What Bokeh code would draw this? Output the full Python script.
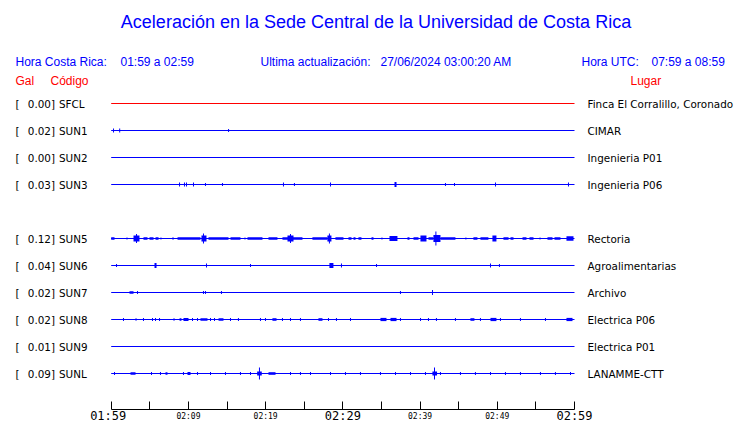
from bokeh.plotting import figure
from bokeh.models import Range1d, LinearAxis, FixedTicker, ColumnDataSource
from bokeh.core.properties import value
from bokeh.embed import file_html
from bokeh.resources import INLINE

# ---------------- data ----------------
titulo = "Aceleración en la Sede Central de la Universidad de Costa Rica"
hora_cr_lbl, hora_cr = "Hora Costa Rica:", "01:59 a 02:59"
act_lbl, act = "Ultima actualización:", "27/06/2024 03:00:20 AM"
hora_utc_lbl, hora_utc = "Hora UTC:", "07:59 a 08:59"

codigos = ["SFCL", "SUN1", "SUN2", "SUN3", "SUN5", "SUN6", "SUN7", "SUN8", "SUN9", "SUNL"]
gal = [0.00, 0.02, 0.00, 0.03, 0.12, 0.04, 0.02, 0.02, 0.01, 0.09]
lugares = ["Finca El Corralillo, Coronado", "CIMAR", "Ingenieria P01", "Ingenieria P06",
           "Rectoria", "Agroalimentarias", "Archivo", "Electrica P06", "Electrica P01",
           "LANAMME-CTT"]
trace_colors = ["red"] + ["blue"] * 9

tick_minutes = list(range(0, 61, 5))
small_tick_labels = {10: "02:09", 20: "02:19", 40: "02:39", 50: "02:49"}
big_tick_minutes = [0, 30, 60]
big_tick_labels = ["01:59", "02:29", "02:59"]

# events: (start minute, end minute, half amplitude)
ev_SFCL = []
ev_SUN1 = [(0.3, 0.3, 2), (1.1, 1.1, 2), (15.2, 15.2, 1.5)]
ev_SUN2 = []
ev_SUN3 = [(8.85, 8.85, 2), (9.49, 9.49, 2), (9.75, 9.75, 2), (10.66, 10.66, 2), (12.21, 12.21, 1.5),
           (14.41, 14.41, 1.5), (22.31, 22.31, 2), (23.73, 23.73, 1.5), (28.40, 28.40, 2),
           (36.69, 36.95, 2.5), (43.29, 43.29, 1.5), (44.46, 44.46, 1.5), (49.77, 49.77, 2),
           (59.22, 59.22, 2)]
ev_SUN5 = [(0.0, 0.43, 1.3), (1.98, 2.11, 1), (2.89, 3.66, 3), (3.28, 3.28, 4.5), (4.18, 4.70, 1.3),
           (4.96, 5.48, 1.3), (5.74, 6.13, 1.3), (6.38, 6.51, 1), (7.94, 8.07, 1.3), (8.59, 11.56, 1.3),
           (11.69, 12.34, 3), (11.95, 11.95, 5), (12.60, 15.19, 1.3), (15.45, 16.74, 1.3),
           (17.26, 17.39, 1), (17.65, 19.59, 1.3), (20.37, 21.53, 1.3), (22.18, 24.77, 1.3),
           (22.83, 23.61, 3), (23.22, 23.22, 4.5), (26.06, 28.00, 1.3), (28.00, 28.52, 3),
           (28.26, 28.26, 5), (29.04, 30.08, 1.3), (30.73, 31.12, 1.3), (31.38, 31.64, 1.3),
           (32.02, 32.41, 1.3), (33.71, 33.97, 1.3), (35.00, 35.13, 1), (36.04, 37.07, 2.5),
           (38.37, 38.63, 1.3), (39.15, 39.80, 1.3), (40.05, 40.83, 3), (41.09, 41.73, 1.3),
           (41.73, 42.64, 3.5), (42.05, 42.05, 7), (42.64, 44.58, 1.3), (45.87, 46.00, 1),
           (46.91, 47.43, 1.3), (47.82, 48.85, 1.3), (49.37, 49.89, 3), (50.80, 51.46, 1.3),
           (51.71, 52.10, 1.3), (53.27, 53.78, 1.3), (54.17, 54.69, 1.3), (55.47, 55.60, 1),
           (56.50, 57.15, 1.3), (57.41, 58.18, 1.3), (58.96, 59.87, 2.2)]
ev_SUN6 = [(0.69, 0.69, 1.5), (5.61, 5.87, 2.5), (12.34, 12.34, 2), (18.04, 18.04, 1.5),
           (28.26, 28.78, 2.5), (29.82, 29.82, 2), (34.36, 34.36, 1.5), (49.12, 49.12, 2),
           (50.28, 50.28, 1.5)]
ev_SUN7 = [(2.37, 2.89, 1.3), (3.41, 3.41, 1.5), (11.95, 11.95, 1.5), (12.21, 12.21, 1.5),
           (14.28, 14.28, 1.5), (37.46, 37.46, 1.5), (41.61, 41.61, 2.5)]
ev_SUN8 = [(1.59, 1.59, 1.5), (3.15, 3.28, 1.3), (4.18, 4.18, 1.5), (5.35, 5.35, 1.5), (5.74, 5.74, 1.5),
           (6.26, 6.26, 1.5), (8.07, 8.20, 1.3), (8.85, 9.10, 1.3), (9.36, 10.01, 1.6), (10.53, 10.53, 1.5),
           (11.18, 11.18, 1.5), (11.56, 12.47, 1.3), (12.86, 12.86, 1.5), (13.38, 13.38, 1.5),
           (13.90, 14.54, 1.3), (15.45, 15.45, 1.5), (16.48, 16.48, 1.5), (19.33, 19.33, 1.5),
           (19.98, 19.98, 1.5), (20.88, 21.41, 1.3), (22.18, 22.18, 1.5), (23.22, 23.22, 1.5),
           (24.51, 24.51, 1.5), (26.84, 27.36, 1.3), (28.14, 28.14, 1.5), (29.17, 29.17, 1.5),
           (30.99, 30.99, 1.5), (34.87, 35.65, 1.6), (36.17, 36.95, 1.6), (37.46, 37.46, 1.5),
           (40.06, 40.06, 1.5), (41.09, 41.09, 1.5), (42.12, 42.12, 1.5), (44.58, 44.58, 1.5),
           (46.52, 47.04, 1.3), (47.82, 47.82, 1.5), (49.12, 49.89, 1.6), (50.41, 50.41, 1.5),
           (53.0, 53.0, 1.5), (56.24, 56.24, 1.5), (58.96, 59.74, 1.6)]
ev_SUN9 = []
ev_SUNL = [(0.43, 0.43, 1.5), (2.50, 3.15, 1.3), (5.22, 5.22, 1.5), (6.38, 6.38, 1.5), (7.03, 7.29, 1.3),
           (9.36, 9.36, 1.5), (9.88, 10.27, 1.6), (11.18, 11.18, 1.5), (12.86, 12.86, 1.5),
           (14.80, 14.80, 1.5), (16.74, 16.74, 1.5), (18.04, 18.04, 1.5), (18.9, 19.5, 2),
           (19.20, 19.20, 6), (20.37, 21.28, 1.3), (23.22, 23.22, 1.5), (24.51, 24.51, 1.5),
           (25.81, 25.81, 1.5), (28.40, 28.40, 1.5), (30.34, 30.34, 1.5), (32.28, 32.28, 1.5),
           (34.87, 34.87, 1.5), (36.82, 36.82, 1.5), (38.76, 38.76, 1.5), (40.70, 40.70, 1.5),
           (41.6, 42.2, 2), (41.87, 41.87, 6), (42.64, 42.64, 1.5), (45.23, 45.23, 1.5),
           (47.17, 47.17, 1.5), (49.12, 49.12, 1.5), (51.06, 51.06, 1.5), (53.0, 53.0, 1.5),
           (55.59, 55.59, 1.5), (57.53, 57.53, 1.5), (59.48, 59.48, 1.5)]
eventos = [ev_SFCL, ev_SUN1, ev_SUN2, ev_SUN3, ev_SUN5, ev_SUN6, ev_SUN7, ev_SUN8, ev_SUN9, ev_SUNL]

# ---------------- layout ----------------
W, H = 740, 423
X0_PX, X1_PX = 110.7, 574.0
PPM = (X1_PX - X0_PX) / 60.0
AXIS_Y = 409
ROW0, ROW_STEP = 103, 27
BLUE, RED = "#0000ff", "#ff0000"

p = figure(width=W, height=H, output_backend="svg", toolbar_location=None,
           x_axis_type=None, y_axis_type=None,
           x_range=Range1d(-X0_PX / PPM, (W - X0_PX) / PPM),
           y_range=Range1d(H, 0),
           min_border=0)
p.outline_line_color = None
p.grid.visible = False
p.background_fill_color = "white"
p.border_fill_color = "white"
p.extra_x_ranges = {"px": Range1d(0, W)}

# traces
base = dict(x0=[], x1=[], y=[], c=[])
qd = dict(l=[], r=[], b=[], t=[], c=[])
sg = dict(x=[], y0=[], y1=[], c=[])
for i, ev in enumerate(eventos):
    slot = i + (1 if i >= 4 else 0)
    y = ROW0 + ROW_STEP * slot
    col = trace_colors[i]
    base["x0"].append(0); base["x1"].append(60); base["y"].append(y); base["c"].append(col)
    for (a, b, amp) in ev:
        if b > a:
            qd["l"].append(a); qd["r"].append(b); qd["b"].append(y - amp); qd["t"].append(y + amp); qd["c"].append(col)
        else:
            sg["x"].append(a); sg["y0"].append(y - amp); sg["y1"].append(y + amp); sg["c"].append(col)

p.segment(x0="x0", y0="y", x1="x1", y1="y", line_color="c", line_width=1,
          source=ColumnDataSource(base))
p.quad(left="l", right="r", bottom="b", top="t", fill_color="c", line_color=None,
       source=ColumnDataSource(qd))
p.segment(x0="x", y0="y0", x1="x", y1="y1", line_color="c", line_width=1,
          source=ColumnDataSource(sg))

# texts
def txt(x, y, s, color="black", size="12px", font="Liberation Sans", align="left", xr="px"):
    p.text(x=[x], y=[y], text=[s], x_range_name=xr, text_color=color,
           text_font=value(font), text_font_size=size, text_align=align,
           text_baseline="middle")

txt(375.5, 21, titulo, BLUE, "18px", align="center")
txt(15, 61, hora_cr_lbl, BLUE)
txt(120, 61, hora_cr, BLUE)
txt(260, 61, act_lbl, BLUE)
txt(380, 61, act, BLUE)
txt(581, 61, hora_utc_lbl, BLUE)
txt(651, 61, hora_utc, BLUE)
txt(15, 80.5, "Gal", RED)
txt(50, 80.5, "Código", RED)
txt(630, 80.5, "Lugar", RED)

for i in range(len(codigos)):
    slot = i + (1 if i >= 4 else 0)
    yc = ROW0 + ROW_STEP * slot + 0.5
    txt(15, yc, "[", size="10.4px", font="DejaVu Sans")
    txt(54.5, yc, f"{gal[i]:.2f}]", size="10.4px", font="DejaVu Sans", align="right")
    txt(58.5, yc, codigos[i], size="10.4px", font="DejaVu Sans")
    txt(587, yc, lugares[i], size="10.4px", font="DejaVu Sans")

# time axis (drawn at a fixed location inside the canvas)
ax = LinearAxis(ticker=FixedTicker(ticks=tick_minutes), bounds=(0, 60), fixed_location=AXIS_Y,
                major_label_overrides={t: small_tick_labels.get(t, "") for t in tick_minutes},
                major_tick_in=8, major_tick_out=0, minor_tick_in=0, minor_tick_out=0,
                major_label_standoff=2,
                major_label_text_font="DejaVu Sans Mono", major_label_text_font_size="8px",
                major_label_text_color="black",
                axis_line_color="black", major_tick_line_color="black")
p.add_layout(ax, "below")

p.text(x=big_tick_minutes, y=[415.5] * 3, text=big_tick_labels, text_align="center",
       text_baseline="middle", text_font=value("DejaVu Sans Mono"), text_font_size="12px",
       text_color="black", x_offset=[-3, 0, 0])

open("out.html", "w").write(file_html(p, INLINE))
